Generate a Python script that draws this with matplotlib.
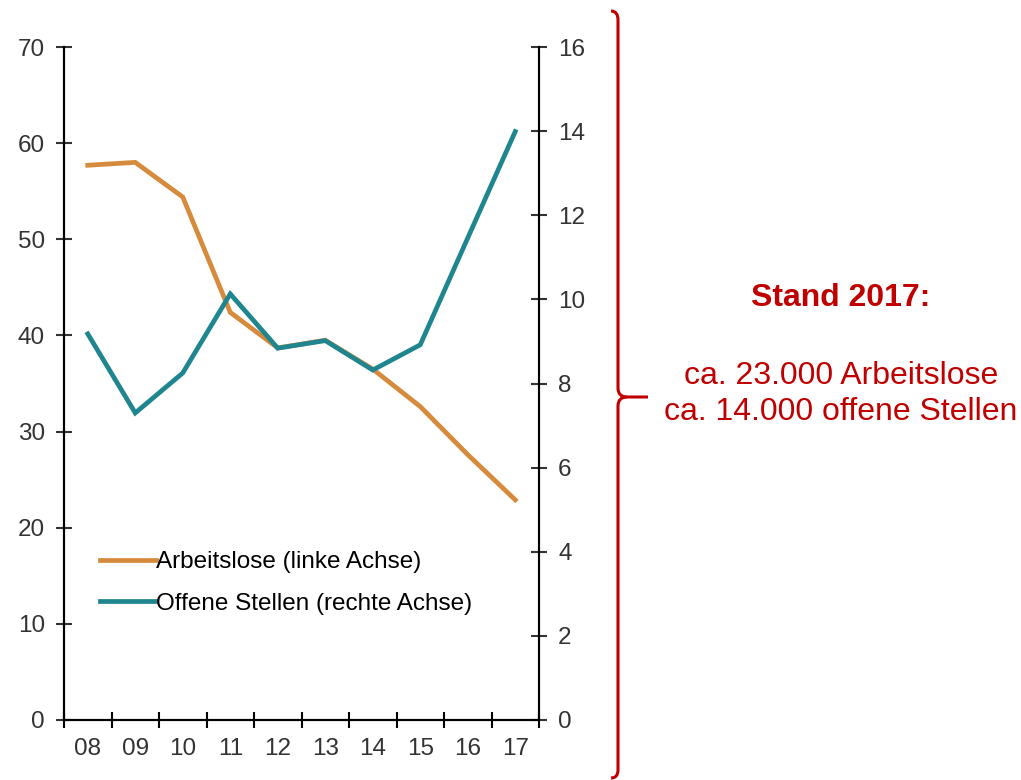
import matplotlib
matplotlib.use("Agg")
import matplotlib.pyplot as plt
from matplotlib.path import Path
from matplotlib.patches import PathPatch
from matplotlib.transforms import Affine2D

# ================== Daten ==================
jahre = ["08", "09", "10", "11", "12", "13", "14", "15", "16", "17"]
arbeitslose = [57.7, 58.0, 54.4, 42.4, 38.7, 39.5, 36.5, 32.6, 27.6, 22.9]       # Tausend, linke Achse
offene_stellen = [9.18, 7.30, 8.25, 10.13, 8.84, 9.02, 8.32, 8.92, 11.46, 13.99]  # Tausend, rechte Achse

label_links = "Arbeitslose (linke Achse)"
label_rechts = "Offene Stellen (rechte Achse)"
info_titel = "Stand 2017:"
info_text = "ca. 23.000 Arbeitslose\nca. 14.000 offene Stellen"

ORANGE = "#D68A3C"
TEAL = "#1F858E"
ROT = "#C00000"

plt.rcParams['font.family'] = ['Liberation Sans', 'DejaVu Sans']

W, H = 1021, 780
fig = plt.figure(figsize=(W / 100, H / 100), dpi=100)
ax = fig.add_axes([64 / W, 1 - 720 / H, (539 - 64) / W, (720 - 47) / H])
ax2 = ax.twinx()

x = list(range(len(jahre)))
l1, = ax.plot(x, arbeitslose, color=ORANGE, lw=3.4, solid_joinstyle='miter')
l2, = ax2.plot(x, offene_stellen, color=TEAL, lw=3.4, solid_joinstyle='miter')

ax.set_xlim(-0.5, len(jahre) - 0.5)
ax.set_ylim(0, 70)
ax2.set_ylim(0, 16)
ax.set_yticks(range(0, 71, 10))
ax2.set_yticks(range(0, 17, 2))
ax.set_xticks(x)
ax.set_xticklabels(jahre)
ax.set_xticks([i - 0.5 for i in range(len(jahre) + 1)], minor=True)

for a in (ax, ax2):
    for s in a.spines.values():
        s.set_linewidth(1.5)
        s.set_color("black")
    a.spines['top'].set_visible(False)
ax.tick_params(axis='y', direction='inout', length=11.5, width=1.5, labelsize=17.5, pad=8, colors='#333333')
ax2.tick_params(axis='y', direction='inout', length=11.5, width=1.5, labelsize=17.5, pad=8, colors='#333333')
ax.tick_params(axis='x', which='major', length=0, labelsize=17.5, pad=13, colors='#333333')
ax.tick_params(axis='x', which='minor', direction='inout', length=11.5, width=1.5)

ax.legend([l1, l2], [label_links, label_rechts], loc='upper left',
          bbox_to_anchor=(100 / W, 1 - 551 / H), bbox_transform=fig.transFigure,
          frameon=False, fontsize=17.5, handlelength=2.3, handletextpad=0.0,
          borderpad=0, borderaxespad=0, labelspacing=0.82)

# Klammer rechts
px = Affine2D().scale(1 / W, -1 / H).translate(0, 1) + fig.transFigure
oben = Path([(611, 11), (618, 11), (618, 20), (618, 388), (618, 397), (627, 397), (648, 397)],
            [Path.MOVETO, Path.CURVE3, Path.CURVE3, Path.LINETO, Path.CURVE3, Path.CURVE3, Path.LINETO])
unten = Path([(627, 397), (618, 397), (618, 406), (618, 770), (618, 778), (611, 778)],
             [Path.MOVETO, Path.CURVE3, Path.CURVE3, Path.LINETO, Path.CURVE3, Path.CURVE3])
for p in (oben, unten):
    fig.patches.append(PathPatch(p, transform=px, fill=False, edgecolor=ROT, lw=2.2))

fig.text(841 / W, 1 - 298 / H, info_titel, color=ROT, fontsize=23, fontweight='bold',
         ha='center', va='center')
fig.text(841 / W, 1 - 394 / H, info_text, color=ROT, fontsize=23,
         ha='center', va='center', linespacing=1.22)

fig.savefig("out.png", dpi=100)
